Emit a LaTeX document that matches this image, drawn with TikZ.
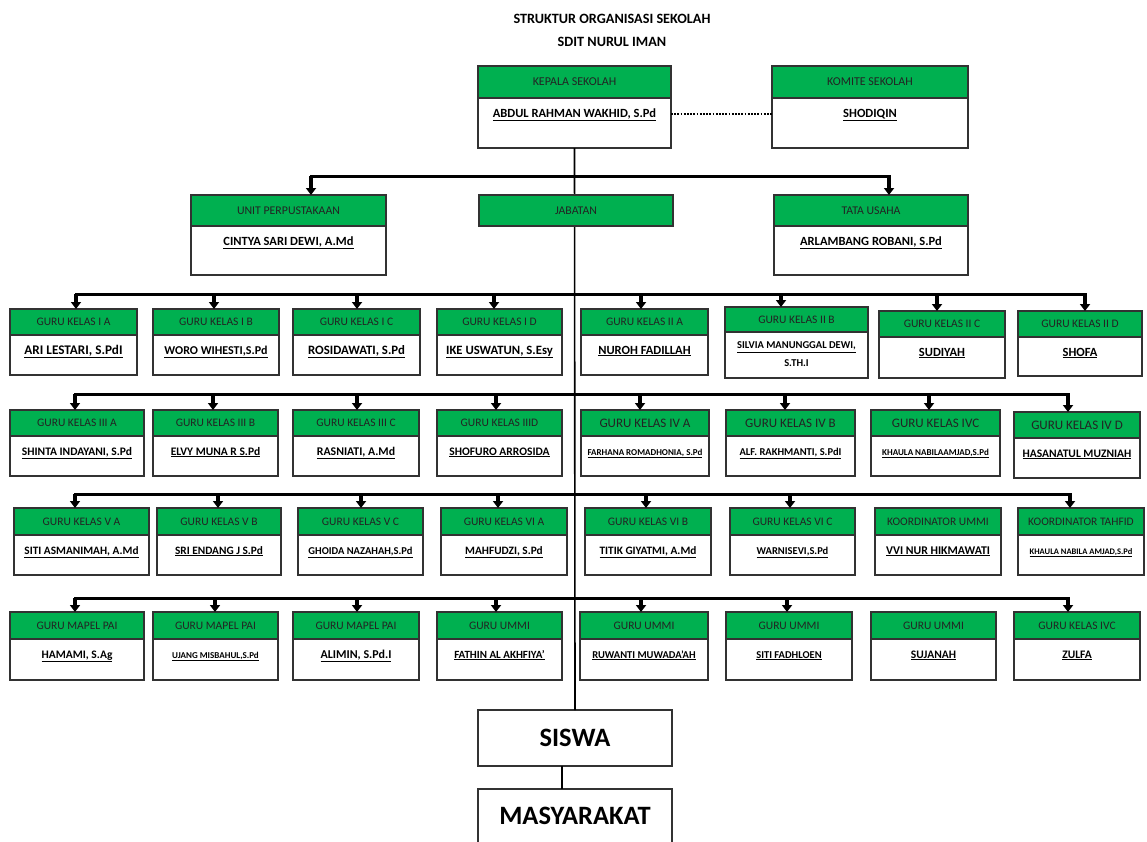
\documentclass[tikz,border=0pt]{standalone}
\usepackage{fontspec}
\setmainfont{Carlito}
\usetikzlibrary{arrows.meta}
\definecolor{hgreen}{RGB}{0,176,80}
\definecolor{bord}{RGB}{50,50,50}
\definecolor{htext}{RGB}{35,35,35}
\newcommand\nmu[1]{\underline{#1}}
\newcommand\fsz[1]{\fontsize{#1}{#1}\selectfont}
\tikzset{
  obox/.style={draw=bord, fill=white, line width=1.3pt, inner sep=0pt, outer sep=0pt},
  ohead/.style={draw=bord, fill=hgreen, line width=1.3pt, inner sep=0pt, outer sep=0pt,
    text=htext, font=\fsz{11.5}},
  oname/.style={inner sep=0pt, outer sep=0pt, font=\bfseries, text=black},
  bigbox/.style={draw=bord, fill=white, line width=1.3pt, inner sep=0pt, outer sep=0pt,
    font=\fsz{26.5}\bfseries},
  bus/.style={line width=3pt, line cap=rect, black},
  arr/.style={line width=3.4pt, black, -{Triangle[width=10pt,length=7pt]}},
  trunk/.style={line width=1.6pt, black},
  conn/.style={line width=2.2pt, black},
  dotline/.style={line width=2.4pt, black, dash pattern=on 1.7pt off 1.5pt},
  ttl/.style={inner sep=0pt, font=\fsz{14.2}\bfseries}
}
% name, x1, x2, y1, y2, header height, header text, person, person size
\newcommand\obox[9]{%
  \node[obox, anchor=north west, minimum width=#3pt-#2pt, minimum height=#5pt-#4pt] (#1) at (#2,#4) {};
  \node[ohead, anchor=north west, minimum width=#3pt-#2pt, minimum height=#6pt] (#1h) at (#1.north west) {#7};
  \node[oname, anchor=base] (#1n) at ([yshift=-19pt]#1h.south) {\fsz{#9}\nmu{#8}};
}
\begin{document}
\begin{tikzpicture}[x=1pt, y=-1pt]
\fill[white] (0,0) rectangle (1147,841);
\clip (0,0) rectangle (1147,841);

% title
\node[ttl] (t1) at (612,19) {STRUKTUR ORGANISASI SEKOLAH};
\node[ttl] (t2) at (612,42) {SDIT NURUL IMAN};

% top
\obox{kepala}{478}{671}{66}{148}{32}{\fsz{12}KEPALA SEKOLAH}{ABDUL RAHMAN WAKHID, S.Pd}{12.5}
\obox{komite}{772}{968}{66}{148}{32}{\fsz{12}KOMITE SEKOLAH}{SHODIQIN}{12.5}

% bottom boxes
\node[bigbox, anchor=north west, minimum width=194pt, minimum height=56pt] (siswa) at (478,710) {SISWA};
\node[bigbox, anchor=north west, minimum width=194pt, minimum height=54pt] (masy) at (478,789) {MASYARAKAT};

% trunk
\draw[trunk] (kepala.south) -- (siswa.north);
\draw[conn] ([xshift=-13pt]siswa.south) -- ([xshift=-13pt]masy.north);
\draw[dotline] ([yshift=-7pt]kepala.east) -- ([yshift=-7pt]komite.west);

% row A
\obox{unit}{191}{386}{195}{275}{31}{\fsz{11.8}UNIT PERPUSTAKAAN}{CINTYA SARI DEWI, A.Md}{12.5}
\obox{tata}{774}{968}{195}{275}{31}{\fsz{11.8}TATA USAHA}{ARLAMBANG ROBANI, S.Pd}{12.5}
\node[ohead, anchor=north west, minimum width=194pt, minimum height=31pt, font=\fsz{11.8}] (jab) at (479,195) {JABATAN};
\coordinate (rAL) at (311,176);
\coordinate (rAR) at (889,176);
\draw[bus] (rAL) -- (rAR);
\draw[arr] (rAL) -- (rAL |- unit.north);
\draw[arr] (rAR) -- (rAR |- tata.north);

% row 1
\obox{g1a}{10}{137}{309}{375}{26}{GURU KELAS I A}{ARI LESTARI, S.PdI}{13.2}
\obox{g1b}{153}{279}{309}{375}{26}{GURU KELAS I B}{WORO WIHESTI,S.Pd}{12}
\obox{g1c}{293}{420}{309}{375}{26}{GURU KELAS I C}{ROSIDAWATI, S.Pd}{12.8}
\obox{g1d}{437}{562}{309}{375}{26}{GURU KELAS I D}{IKE USWATUN, S.Esy}{12.7}
\obox{g2a}{581}{708}{309}{375}{26}{GURU KELAS II A}{NUROH FADILLAH}{12.5}
\node[obox, anchor=north west, minimum width=143pt, minimum height=71pt] (g2b) at (725,307) {};
\node[ohead, anchor=north west, minimum width=143pt, minimum height=25pt] (g2bh) at (g2b.north west) {GURU KELAS II B};
\node[oname, align=center, anchor=north, font=\fsz{10.5}\bfseries] (g2bn) at ([yshift=-10pt]g2bh.south) {\nmu{SILVIA MANUNGGAL DEWI,}\\[7pt]S.TH.I};
\obox{g2c}{879}{1005}{311}{378}{26}{GURU KELAS II C}{SUDIYAH}{12.5}
\obox{g2d}{1018}{1142}{311}{376}{26}{GURU KELAS II D}{SHOFA}{12.5}
\coordinate (r1L) at (76,294);
\coordinate (r1R) at (1085,294);
\draw[bus] (r1L) -- (r1R);
\foreach \x/\b in {76/g1a,214/g1b,357/g1c,494/g1d,641/g2a,781/g2b,937/g2c,1085/g2d}{
  \coordinate (r1\b) at (\x,294);
  \draw[arr] (r1\b) -- (r1\b |- \b.north);
}

% row 2
\obox{g3a}{10}{144}{410}{476}{26}{GURU KELAS III A}{SHINTA INDAYANI, S.Pd}{11.5}
\obox{g3b}{153}{278}{410}{476}{26}{GURU KELAS III B}{ELVY MUNA R S.Pd}{11.5}
\obox{g3c}{293}{419}{410}{476}{26}{GURU KELAS III C}{RASNIATI, A.Md}{11.8}
\obox{g3d}{437}{562}{410}{476}{26}{GURU KELAS IIID}{SHOFURO ARROSIDA}{11.5}
\obox{g4a}{581}{709}{410}{476}{26}{\fsz{13}GURU KELAS IV A}{FARHANA ROMADHONIA, S.Pd}{9}
\obox{g4b}{726}{855}{410}{476}{26}{\fsz{13}GURU KELAS IV B}{ALF. RAKHMANTI, S.PdI}{10.5}
\obox{g4c}{871}{1000}{410}{476}{26}{\fsz{13}GURU KELAS IVC}{KHAULA NABILAAMJAD,S.Pd}{9}
\obox{g4d}{1014}{1140}{412}{478}{26}{\fsz{13}GURU KELAS IV D}{HASANATUL MUZNIAH}{11.5}
\coordinate (r2L) at (75,394);
\coordinate (r2R) at (1068,394);
\draw[bus] (r2L) -- (r2R);
\foreach \x/\b in {75/g3a,213/g3b,357/g3c,496/g3d,640/g4a,785/g4b,929/g4c,1068/g4d}{
  \coordinate (r2\b) at (\x,394);
  \draw[arr] (r2\b) -- (r2\b |- \b.north);
}

% row 3
\obox{g5a}{14}{149}{508}{575}{27}{GURU KELAS V A}{SITI ASMANIMAH, A.Md}{11.3}
\obox{g5b}{157}{281}{508}{575}{27}{GURU KELAS V B}{SRI ENDANG J S.Pd}{11.3}
\obox{g5c}{298}{423}{508}{575}{27}{GURU KELAS V C}{GHOIDA NAZAHAH,S.Pd}{10.5}
\obox{g6a}{441}{567}{508}{575}{27}{GURU KELAS VI A}{MAHFUDZI, S.Pd}{11.3}
\obox{g6b}{585}{711}{508}{575}{27}{GURU KELAS VI B}{TITIK GIYATMI, A.Md}{11.3}
\obox{g6c}{730}{855}{508}{575}{27}{GURU KELAS VI C}{WARNISEVI,S.Pd}{10.5}
\obox{kum}{875}{1001}{508}{575}{27}{KOORDINATOR UMMI}{VVI NUR HIKMAWATI}{11.8}
\obox{kth}{1018}{1144}{508}{575}{27}{KOORDINATOR TAHFID}{KHAULA NABILA AMJAD,S.Pd}{8.5}
\coordinate (r3L) at (75,494);
\coordinate (r3R) at (1070,494);
\draw[bus] (r3L) -- (r3R);
\foreach \x/\b in {75/g5a,218/g5b,361/g5c,498/g6a,646/g6b,790/g6c,1070/kth}{
  \coordinate (r3\b) at (\x,494);
  \draw[arr] (r3\b) -- (r3\b |- \b.north);
}

% row 4
\obox{m1}{10}{144}{612}{680}{27}{GURU MAPEL PAI}{HAMAMI, S.Ag}{11.5}
\obox{m2}{153}{278}{612}{680}{27}{GURU MAPEL PAI}{UJANG MISBAHUL,S.Pd}{9}
\obox{m3}{293}{419}{612}{680}{27}{GURU MAPEL PAI}{ALIMIN, S.Pd.I}{12}
\obox{u1}{437}{562}{612}{680}{27}{GURU UMMI}{FATHIN AL AKHFIYA'}{11}
\obox{u2}{580}{708}{612}{680}{27}{GURU UMMI}{RUWANTI MUWADA'AH}{10.5}
\obox{u3}{726}{852}{612}{680}{27}{GURU UMMI}{SITI FADHLOEN}{10.5}
\obox{u4}{871}{996}{612}{680}{27}{GURU UMMI}{SUJANAH}{11.5}
\obox{z1}{1014}{1140}{612}{680}{27}{GURU KELAS IVC}{ZULFA}{11.5}
\coordinate (r4L) at (75,598);
\coordinate (r4R) at (1068,598);
\draw[bus] (r4L) -- (r4R);
\foreach \x/\b in {75/m1,215/m2,357/m3,496/u1,641/u2,787/u3,1068/z1}{
  \coordinate (r4\b) at (\x,598);
  \draw[arr] (r4\b) -- (r4\b |- \b.north);
}
\end{tikzpicture}
\end{document}
